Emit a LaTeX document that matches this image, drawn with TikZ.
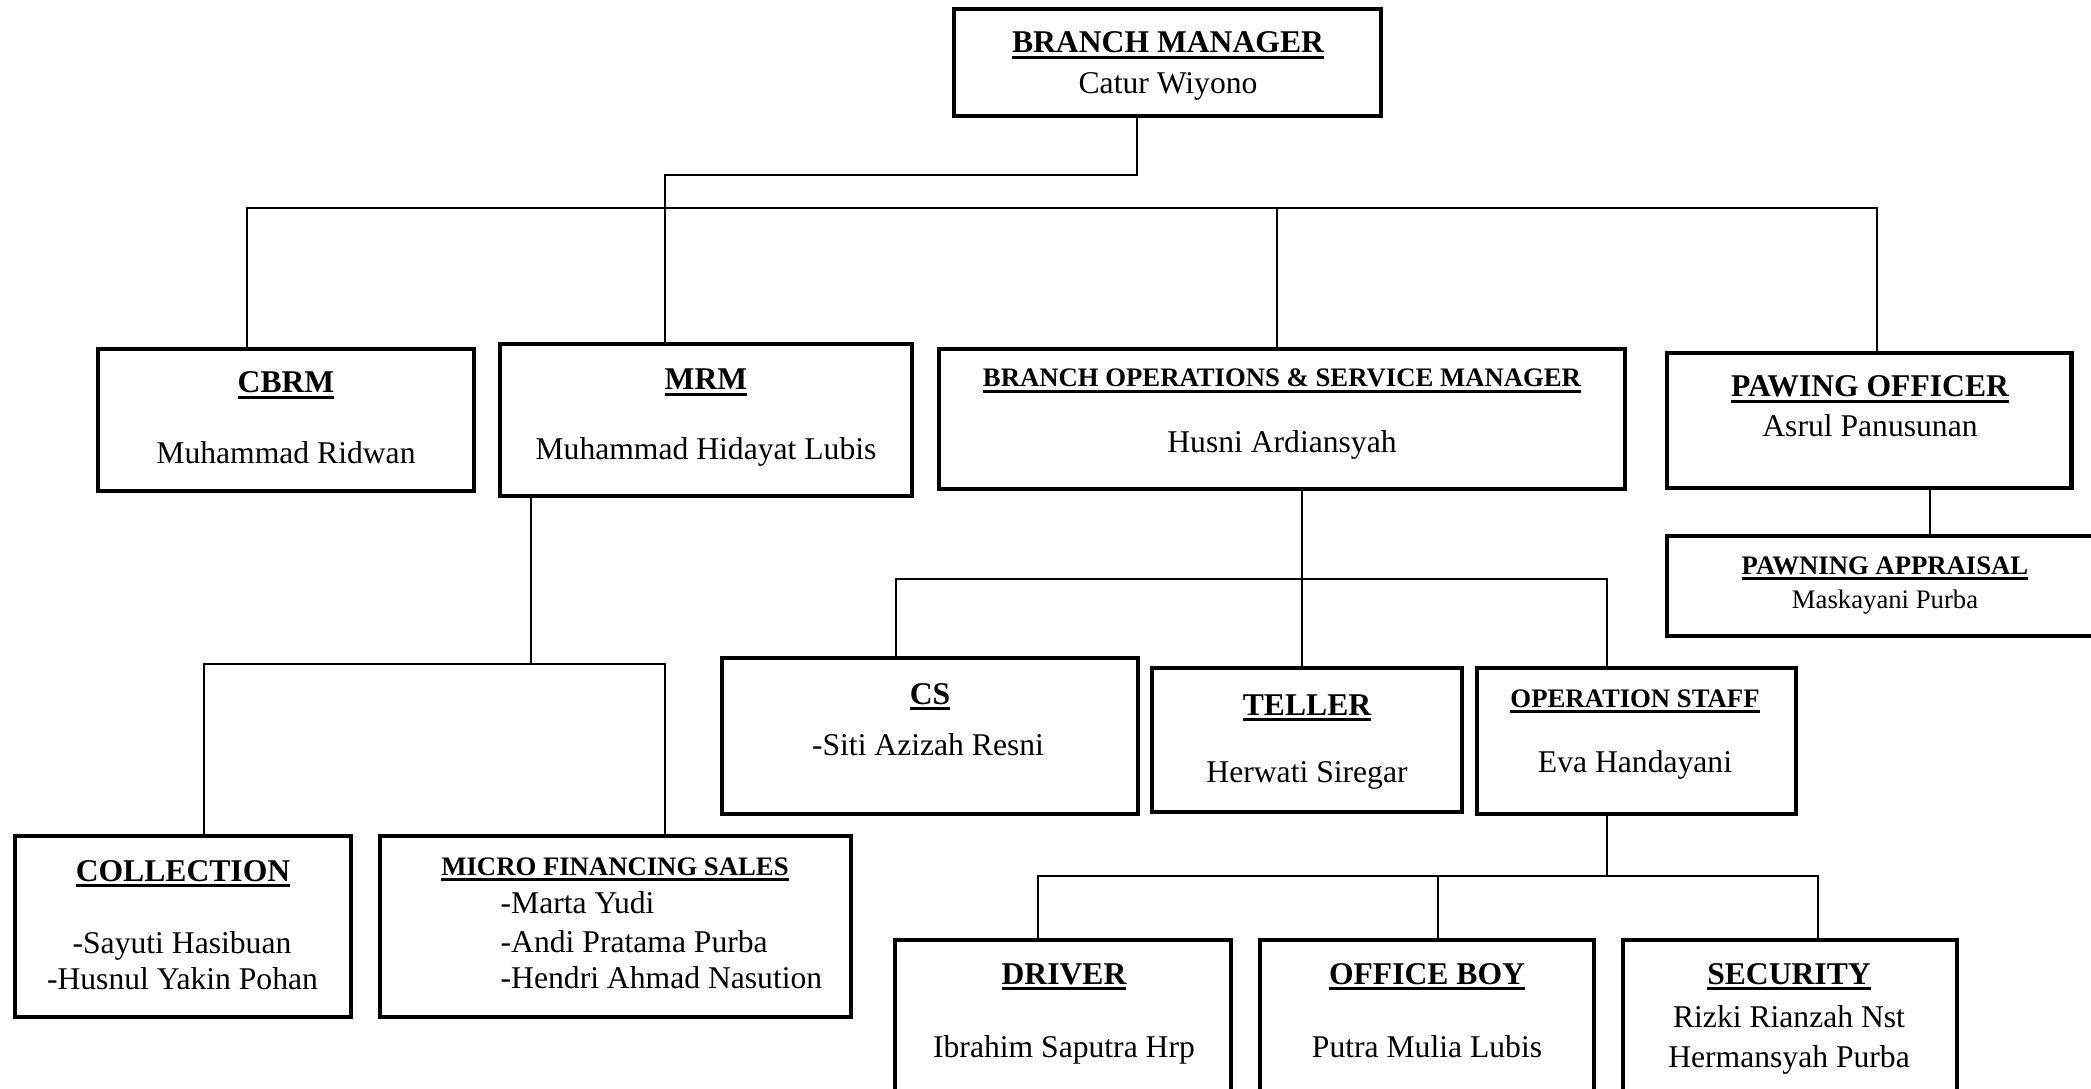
\documentclass[tikz,border=0pt]{standalone}
\usepackage{fontspec}
\setmainfont{Liberation Serif}
\usetikzlibrary{positioning}
\newcommand{\hdline}[1]{\setbox0\hbox{#1}\rlap{\rule[-1.7pt]{\wd0}{0.8pt}}\box0}
\tikzset{
  box/.style={draw,rectangle,line width=1.4pt,inner sep=0pt},
  link/.style={line width=0.4pt},
  ttl/.style={anchor=base,inner sep=0pt,font=\fontsize{9}{10}\selectfont\bfseries},
  sttl/.style={anchor=base,inner sep=0pt,font=\fontsize{7.6}{9}\selectfont\bfseries},
  nm/.style={anchor=base,inner sep=0pt,font=\fontsize{9}{10}\selectfont},
  snm/.style={anchor=base,inner sep=0pt,font=\fontsize{7.6}{9}\selectfont}
}
\begin{document}
\begin{tikzpicture}
  \useasboundingbox (0,0) rectangle (20.91,-10.89);
  \clip (0,0) rectangle (20.91,-10.89);
  % boxes
  \node[box,minimum width=4.27cm,minimum height=1.07cm] (bm) at (11.675,-0.625) {};
  \node[box,minimum width=3.76cm,minimum height=1.42cm] (cbrm) at (2.86,-4.20) {};
  \node[box,minimum width=4.12cm,minimum height=1.52cm] (mrm) at (7.06,-4.20) {};
  \node[box,minimum width=6.86cm,minimum height=1.40cm] (bosm) at (12.82,-4.19) {};
  \node[box,minimum width=4.04cm,minimum height=1.35cm] (po) at (18.69,-4.205) {};
  \node[box,minimum width=4.36cm,minimum height=1.00cm] (pa) at (18.85,-5.86) {};
  \node[box,minimum width=4.16cm,minimum height=1.56cm] (cs) at (9.30,-7.36) {};
  \node[box,minimum width=3.10cm,minimum height=1.44cm] (teller) at (13.07,-7.40) {};
  \node[box,minimum width=3.19cm,minimum height=1.46cm] (ops) at (16.365,-7.41) {};
  \node[box,minimum width=3.36cm,minimum height=1.81cm] (coll) at (1.83,-9.265) {};
  \node[box,minimum width=4.71cm,minimum height=1.81cm] (mfs) at (6.155,-9.265) {};
  \node[box,minimum width=3.36cm,minimum height=1.70cm] (driver) at (10.63,-10.25) {};
  \node[box,minimum width=3.34cm,minimum height=1.70cm] (oboy) at (14.27,-10.25) {};
  \node[box,minimum width=3.34cm,minimum height=1.70cm] (sec) at (17.90,-10.25) {};

  % texts
  \node[ttl] (bmt) at (11.68,-0.53) {\hdline{BRANCH MANAGER}};
  \node[nm] (bmn) at (11.68,-0.94) {Catur Wiyono};
  \node[ttl] (cbrmt) at (2.86,-3.93) {\hdline{CBRM}};
  \node[nm] (cbrmn) at (2.86,-4.64) {Muhammad Ridwan};
  \node[ttl] (mrmt) at (7.06,-3.90) {\hdline{MRM}};
  \node[nm] (mrmn) at (7.06,-4.60) {Muhammad Hidayat Lubis};
  \node[sttl] (bosmt) at (12.82,-3.87) {\hdline{BRANCH OPERATIONS \& SERVICE MANAGER}};
  \node[nm] (bosmn) at (12.82,-4.53) {Husni Ardiansyah};
  \node[ttl] (pot) at (18.70,-3.97) {\hdline{PAWING OFFICER}};
  \node[nm] (pon) at (18.70,-4.37) {Asrul Panusunan};
  \node[sttl] (pat) at (18.85,-5.74) {\hdline{PAWNING APPRAISAL}};
  \node[snm] (pan) at (18.85,-6.08) {Maskayani Purba};
  \node[ttl] (cst) at (9.30,-7.04) {\hdline{CS}};
  \node[nm] (csn) at (9.28,-7.55) {-Siti Azizah Resni};
  \node[ttl] (tellert) at (13.07,-7.15) {\hdline{TELLER}};
  \node[nm] (tellern) at (13.07,-7.82) {Herwati Siregar};
  \node[sttl] (opst) at (16.35,-7.07) {\hdline{OPERATION STAFF}};
  \node[nm] (opsn) at (16.35,-7.72) {Eva Handayani};
  \node[ttl] (collt) at (1.83,-8.81) {\hdline{COLLECTION}};
  \node[nm] (colla) at (1.82,-9.53) {-Sayuti Hasibuan};
  \node[nm] (collb) at (1.825,-9.89) {-Husnul Yakin Pohan};
  \node[sttl] (mfst) at (6.15,-8.75) {\hdline{MICRO FINANCING SALES}};
  \node[nm,anchor=base west] (mfsa) at (5.00,-9.13) {-Marta Yudi};
  \node[nm,anchor=base west] (mfsb) at (5.00,-9.52) {-Andi Pratama Purba};
  \node[nm,anchor=base west] (mfsc) at (5.00,-9.88) {-Hendri Ahmad Nasution};
  \node[ttl] (drivert) at (10.64,-9.84) {\hdline{DRIVER}};
  \node[nm] (drivern) at (10.64,-10.57) {Ibrahim Saputra Hrp};
  \node[ttl] (oboyt) at (14.27,-9.84) {\hdline{OFFICE BOY}};
  \node[nm] (oboyn) at (14.27,-10.57) {Putra Mulia Lubis};
  \node[ttl] (sect) at (17.89,-9.84) {\hdline{SECURITY}};
  \node[nm] (seca) at (17.89,-10.27) {Rizki Rianzah Nst};
  \node[nm] (secb) at (17.89,-10.67) {Hermansyah Purba};

  % junctions
  \coordinate (bmj) at (11.37,-1.75);
  \coordinate (mrmj) at (6.65,-1.75);
  \coordinate (barL) at (2.47,-2.08);
  \coordinate (barM) at (12.77,-2.08);
  \coordinate (barR) at (18.77,-2.08);
  \coordinate (paj) at (19.30,-5.10);
  \coordinate (opj) at (13.02,-5.79);
  \coordinate (opL) at (8.96,-5.79);
  \coordinate (opR) at (16.07,-5.79);
  \coordinate (sJ) at (16.07,-8.76);
  \coordinate (sL) at (10.38,-8.76);
  \coordinate (sM) at (14.38,-8.76);
  \coordinate (sR) at (18.18,-8.76);
  \coordinate (mJ) at (5.31,-6.64);
  \coordinate (mL) at (2.04,-6.64);
  \coordinate (mR) at (6.65,-6.64);

  % connectors
  \draw[link] (bm.south -| bmj) -- (bmj) -- (mrmj) -- (mrm.north -| mrmj);
  \draw[link] (cbrm.north -| barL) -- (barL) -- (barR) -- (po.north -| barR);
  \draw[link] (barM) -- (bosm.north -| barM);
  \draw[link] (po.south -| paj) -- (pa.north -| paj);
  \draw[link] (bosm.south -| opj) -- (teller.north -| opj);
  \draw[link] (cs.north -| opL) -- (opL) -- (opR) -- (ops.north -| opR);
  \draw[link] (ops.south -| sJ) -- (sJ);
  \draw[link] (driver.north -| sL) -- (sL) -- (sR) -- (sec.north -| sR);
  \draw[link] (sM) -- (oboy.north -| sM);
  \draw[link] (mrm.south -| mJ) -- (mJ);
  \draw[link] (coll.north -| mL) -- (mL) -- (mR) -- (mfs.north -| mR);
\end{tikzpicture}
\end{document}
